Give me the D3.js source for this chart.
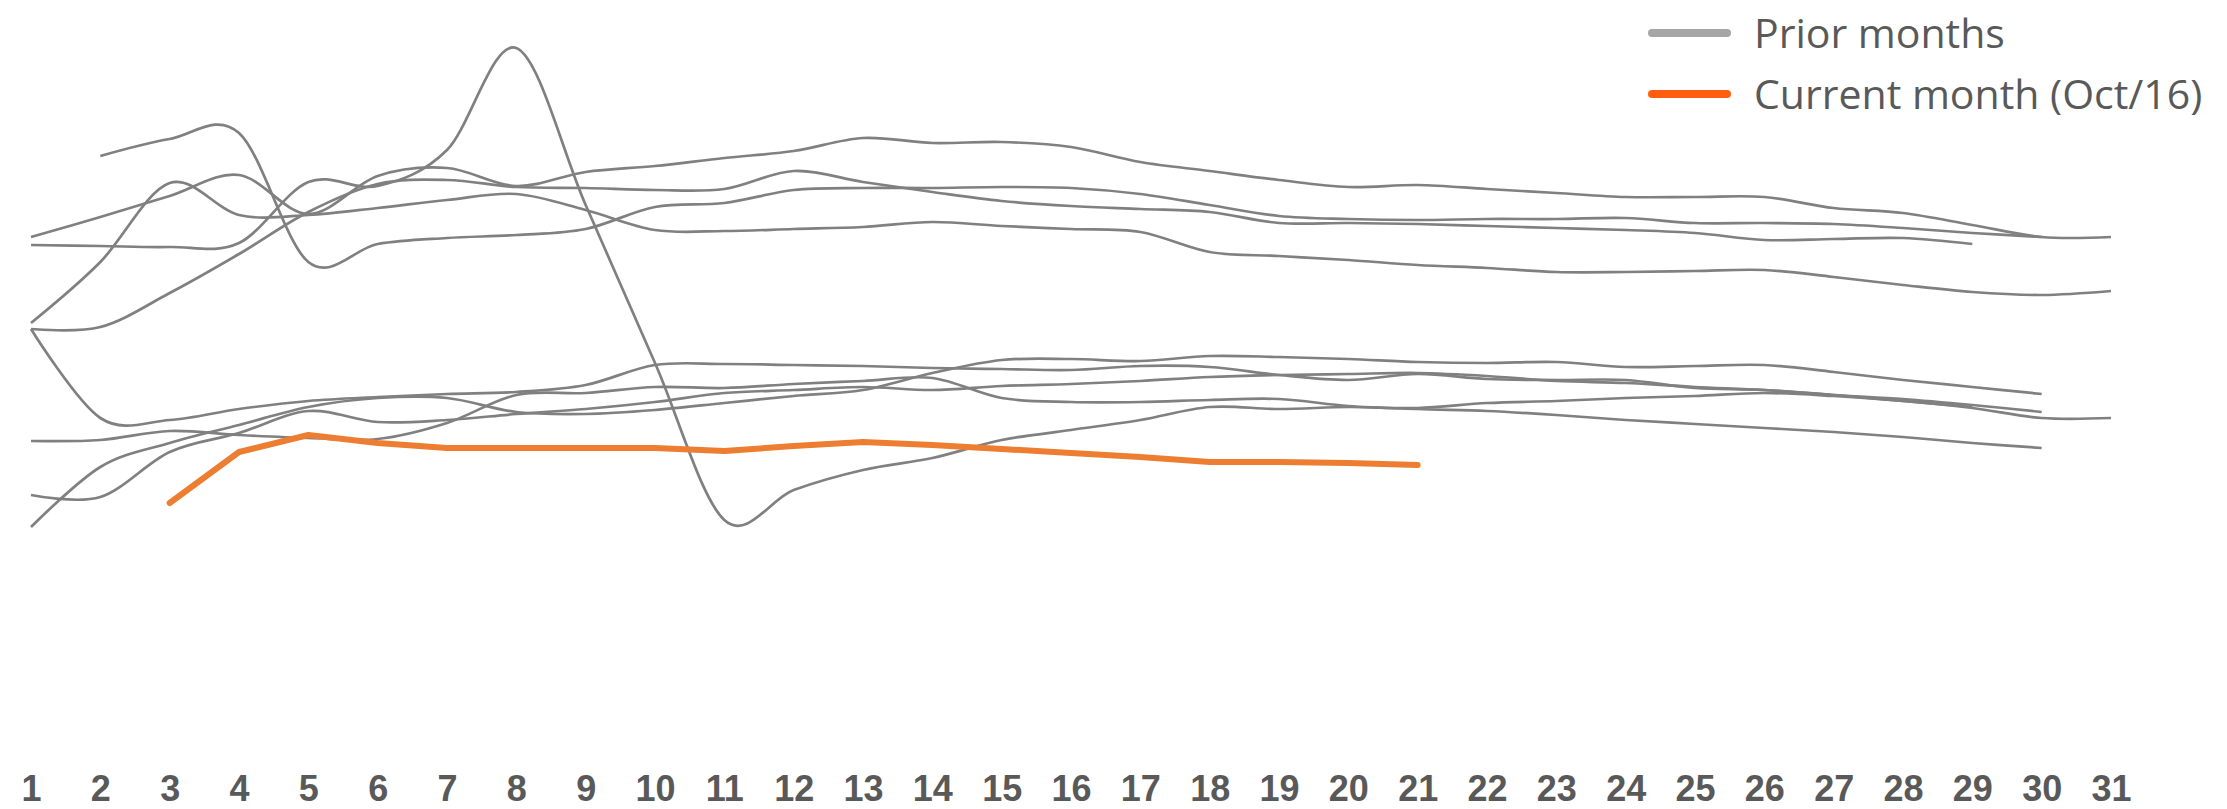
<!DOCTYPE html>
<html>
<head>
<meta charset="utf-8">
<script src="https://cdn.jsdelivr.net/npm/d3@7"></script>
<style>
  html, body { margin: 0; padding: 0; background: #ffffff; }
  svg { display: block; }
</style>
</head>
<body>
<svg id="chart" width="2227" height="809"></svg>
<script>
// ---- data (days of month, one array per month) ----
const days = d3.range(1, 32);
const dayLabels = days.map(String);

const prior1 = [71.0,70.8,70.6,71.4,83.6,82.8,90.0,110.4,79.0,47.4,16.0,22.0,26.0,28.4,32.0,34.0,36.0,38.6,38.2,38.6,38.4,39.4,39.8,40.4,40.8,41.4,40.8,39.8,38.4,36.4,36.4];
const prior2 = [72.6,76.6,80.8,85.0,77.2,84.8,86.4,82.8,85.6,86.8,88.4,89.8,92.4,91.4,91.6,90.6,87.6,85.8,84.0,82.6,83.0,82.2,81.4,80.6,80.6,80.6,78.4,77.4,75.0,72.6,72.6];
const prior3 = [null,88.8,92.2,93.4,67.6,71.2,72.4,73.0,74.2,78.6,79.4,82.0,82.4,82.4,82.6,82.4,81.2,79.0,76.8,76.2,76.0,76.2,76.2,76.4,75.4,75.4,75.2,74.4,73.4,72.6,null];
const prior4 = [54.2,54.6,61.4,69.2,77.6,83.2,84.0,82.6,82.4,82.0,82.2,85.8,83.6,81.6,79.8,78.8,78.2,77.6,75.4,75.4,75.2,74.8,74.4,74.0,73.4,72.0,72.2,72.4,71.2,null,null];
const prior5 = [55.4,67.6,83.4,77.0,77.0,78.4,80.0,81.2,78.0,74.0,73.8,74.2,74.6,75.6,74.8,74.2,73.6,69.6,68.8,68.0,67.0,66.4,65.6,65.6,65.8,66.0,64.6,63.0,61.6,61.0,61.8];
const prior6 = [54.2,36.4,36.0,38.2,39.8,40.6,41.2,41.6,43.0,47.0,47.2,47.0,46.8,46.4,46.2,46.0,46.8,46.6,45.0,44.0,45.2,44.2,44.0,44.0,42.4,42.0,41.0,40.2,39.0,37.6,null];
const prior7 = [31.8,32.0,33.8,33.0,32.4,32.2,35.4,41.0,41.4,42.6,42.4,43.2,43.8,44.4,40.4,39.6,39.6,40.0,40.2,38.8,38.2,37.8,37.0,36.0,35.2,34.4,33.6,32.6,31.4,30.4,null];
const prior8 = [21.0,20.6,29.6,33.4,37.8,35.6,36.0,37.2,38.2,39.6,41.4,42.0,42.6,42.0,42.8,43.2,43.8,44.6,45.0,45.2,45.4,44.8,43.8,43.4,42.6,42.0,41.0,39.8,38.6,null,null];
const prior9 = [14.6,26.6,31.4,35.0,38.6,40.4,40.4,37.6,37.2,38.0,39.4,40.8,42.0,45.4,48.0,48.2,47.8,48.8,48.6,48.2,47.6,47.4,47.6,46.6,46.8,47.0,45.6,44.0,42.6,41.2,null];
const current = [null,null,19.4,29.6,33.0,31.4,30.4,30.4,30.4,30.4,29.8,30.8,31.6,31.0,30.2,29.4,28.6,27.6,27.6,27.4,27.0,null,null,null,null,null,null,null,null,null,null];

const priorSeries = [prior1, prior2, prior3, prior4, prior5, prior6, prior7, prior8, prior9];
const legendLabels = ["Prior months", "Current month (Oct/16)"];

// ---- drawing ----
const svg = d3.select("#chart");
svg.append("rect").attr("width", 2227).attr("height", 809).attr("fill", "#ffffff");

const x = d3.scaleLinear().domain([1, 31]).range([31, 2111]);
const y = d3.scaleLinear().domain([0, 120]).range([600, 0]);

const toPoints = arr => arr.map((v, i) => ({ day: days[i], v }));

const smooth = d3.line()
  .defined(d => d.v != null)
  .x(d => x(d.day))
  .y(d => y(d.v))
  .curve(d3.curveCardinal.tension(0));

const straight = d3.line()
  .defined(d => d.v != null)
  .x(d => x(d.day))
  .y(d => y(d.v));

svg.append("g")
  .selectAll("path")
  .data(priorSeries)
  .join("path")
  .attr("d", s => smooth(toPoints(s)))
  .attr("fill", "none")
  .attr("stroke", "#808080")
  .attr("stroke-width", 2.7);

svg.append("path")
  .attr("d", straight(toPoints(current)))
  .attr("fill", "none")
  .attr("stroke", "#ED7D31")
  .attr("stroke-width", 6)
  .attr("stroke-linecap", "round")
  .attr("stroke-linejoin", "round");

// x axis (labels only)
const xAxis = d3.axisBottom(x)
  .tickValues(days)
  .tickFormat((d, i) => dayLabels[i])
  .tickSize(0)
  .tickPadding(0);

const gx = svg.append("g")
  .attr("transform", "translate(0,0)")
  .call(xAxis);
gx.select(".domain").remove();
gx.selectAll("text")
  .attr("y", 801)
  .attr("dy", null)
  .attr("font-family", "'Liberation Sans', Arial, sans-serif")
  .attr("font-weight", "bold")
  .attr("font-size", 36)
  .attr("fill", "#595959");

// legend
const legend = svg.append("g");
const legendColors = ["#A6A6A6", "#FF5F0F"];
const legendY = [33, 94];
legendLabels.forEach((lab, i) => {
  legend.append("line")
    .attr("x1", 1652).attr("x2", 1727)
    .attr("y1", legendY[i]).attr("y2", legendY[i])
    .attr("stroke", legendColors[i])
    .attr("stroke-width", 8)
    .attr("stroke-linecap", "round");
  legend.append("text")
    .attr("x", 1754)
    .attr("y", legendY[i] + 15)
    .attr("font-family", "'Open Sans', sans-serif")
    .attr("font-size", 41)
    .attr("fill", "#595959")
    .text(lab);
});
</script>
</body>
</html>
